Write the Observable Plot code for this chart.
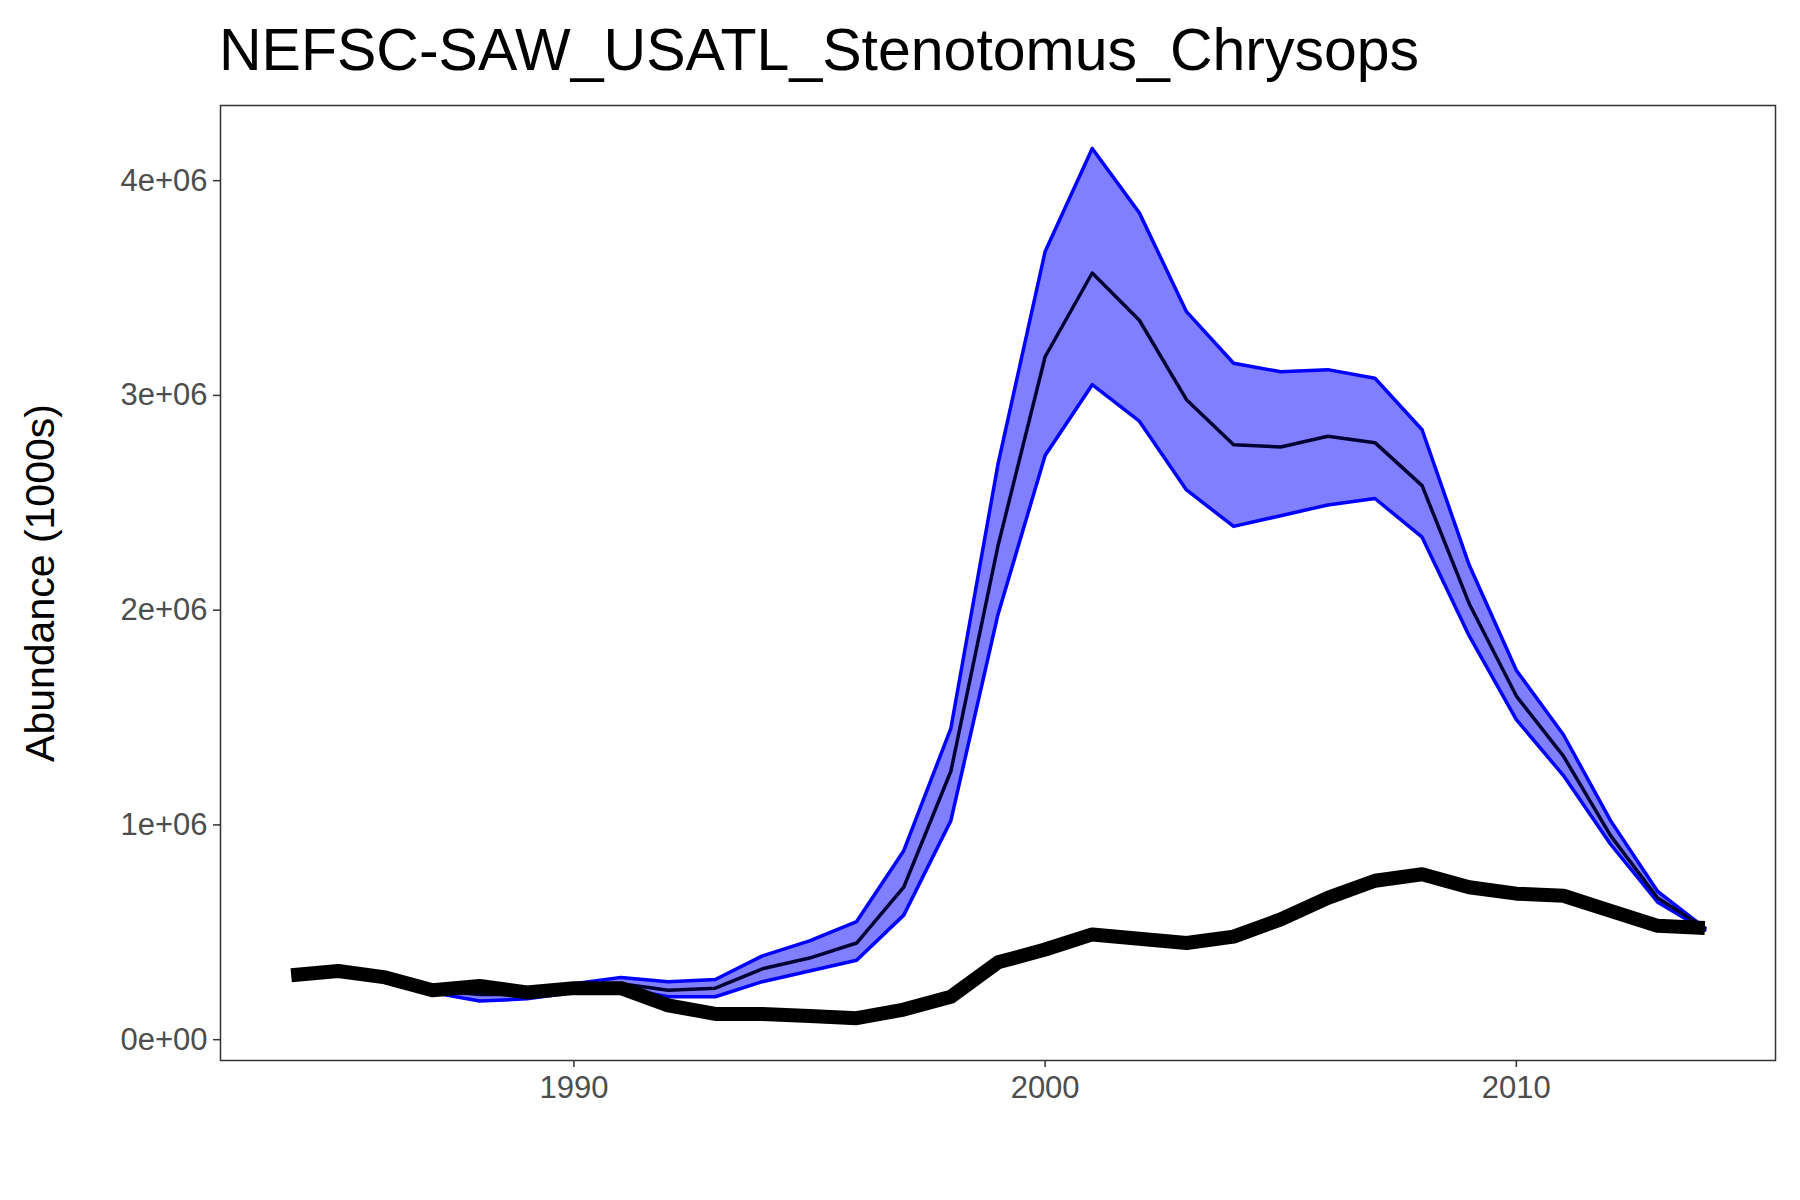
<!DOCTYPE html>
<html>
<head>
<meta charset="utf-8">
<script src="https://cdn.jsdelivr.net/npm/d3@7"></script>
<script src="https://cdn.jsdelivr.net/npm/@observablehq/plot@0.6"></script>
<style>
  body { margin: 0; background: white; font-family: "Liberation Sans", Arial, sans-serif; }
  #title { height: 95px; padding-left: 219px; font-size: 59px; line-height: 100px; color: #000; }
</style>
</head>
<body>
<div id="title">NEFSC-SAW_USATL_Stenotomus_Chrysops</div>
<div id="chart"></div>
<script>
// observed abundance (thick black), 1984-2014, millions
const obsYears = d3.range(1984, 2015);
const obsValues = [0.30, 0.32, 0.29, 0.23, 0.25, 0.22, 0.24, 0.24, 0.16, 0.12, 0.12, 0.11, 0.10, 0.14, 0.20,
  0.36, 0.42, 0.49, 0.47, 0.45, 0.48, 0.56, 0.66, 0.74, 0.77, 0.71, 0.68, 0.67, 0.60, 0.53, 0.52];

// model estimate with band, 1987-2014
const modYears = d3.range(1987, 2015);
const modMean = [0.23, 0.21, 0.21, 0.24, 0.26, 0.23, 0.24, 0.33, 0.38, 0.45, 0.71, 1.25, 2.30, 3.18, 3.57,
  3.35, 2.98, 2.77, 2.76, 2.81, 2.78, 2.58, 2.03, 1.60, 1.32, 0.95, 0.66, 0.52];
const modUpper = [0.23, 0.22, 0.22, 0.26, 0.29, 0.27, 0.28, 0.39, 0.46, 0.55, 0.88, 1.45, 2.68, 3.67, 4.15,
  3.85, 3.39, 3.15, 3.11, 3.12, 3.08, 2.84, 2.21, 1.72, 1.42, 1.02, 0.69, 0.52];
const modLower = [0.22, 0.18, 0.19, 0.22, 0.24, 0.20, 0.20, 0.27, 0.32, 0.37, 0.58, 1.02, 1.98, 2.72, 3.05,
  2.88, 2.56, 2.39, 2.44, 2.49, 2.52, 2.34, 1.88, 1.49, 1.23, 0.91, 0.64, 0.51];

const obs = obsYears.map((year, i) => ({year, value: obsValues[i] * 1e6}));
const mod = modYears.map((year, i) => ({year, mean: modMean[i] * 1e6, lo: modLower[i] * 1e6, hi: modUpper[i] * 1e6}));

const font = "Liberation Sans, Arial, sans-serif";

const chart = Plot.plot({
  width: 1800,
  height: 1105,
  marginTop: 10,
  marginLeft: 220,
  marginRight: 25,
  marginBottom: 140,
  style: {fontFamily: font, background: "white"},
  x: {domain: [1982.5, 2015.5]},
  y: {domain: [-0.097e6, 4.35e6]},
  marks: [
    Plot.areaY(mod, {x: "year", y1: "lo", y2: "hi", fill: "#0000ff", fillOpacity: 0.5}),
    Plot.line(mod, {x: "year", y: "hi", stroke: "#0000ff", strokeWidth: 3.5}),
    Plot.line(mod, {x: "year", y: "lo", stroke: "#0000ff", strokeWidth: 3.5}),
    Plot.line(mod, {x: "year", y: "mean", stroke: "#000033", strokeWidth: 3.5}),
    Plot.line(obs, {x: "year", y: "value", stroke: "black", strokeWidth: 14, strokeLinecap: "butt"}),
    Plot.frame({stroke: "#333", strokeWidth: 1.5}),
    Plot.axisX({ticks: [1990, 2000, 2010], tickFormat: d => String(d), tickSize: 7, tickPadding: 8,
      fontSize: 31, color: "#4d4d4d", stroke: "#333", strokeWidth: 1.5, label: null}),
    Plot.axisY({ticks: [0, 1e6, 2e6, 3e6, 4e6], tickFormat: d => d === 0 ? "0e+00" : (d / 1e6) + "e+06",
      tickSize: 7, tickPadding: 6, fontSize: 31, color: "#4d4d4d", stroke: "#333", strokeWidth: 1.5,
      label: null}),
    Plot.text(["Abundance (1000s)"], {frameAnchor: "left", textAnchor: "middle", dx: -180, rotate: -90,
      fontSize: 41, fill: "black"})
  ]
});
document.getElementById("chart").append(chart);
</script>
</body>
</html>
